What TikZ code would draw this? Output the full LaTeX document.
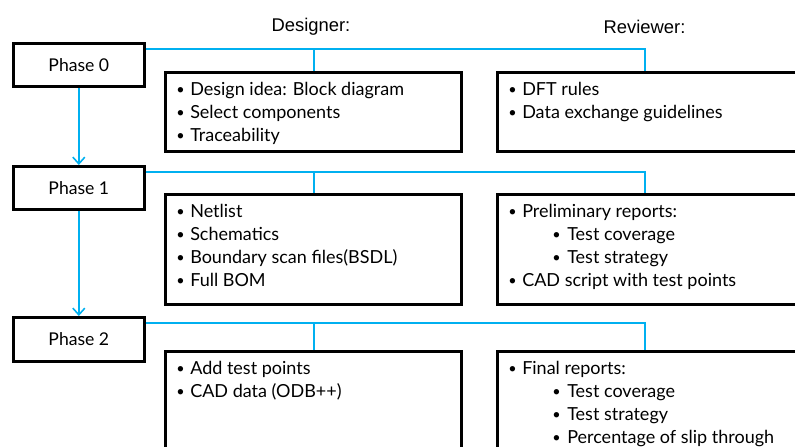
\documentclass[tikz,border=0pt]{standalone}
\usepackage{fontspec}
\setmainfont{Lato}
\newfontfamily\hdrfont{Liberation Sans}
\usetikzlibrary{arrows.meta}
\definecolor{linkblue}{RGB}{0,176,240}
\newcommand{\itm}[1]{\makebox[10.5pt][l]{\raisebox{0.5pt}{\scalebox{0.8}{\textbullet}}}#1}
\newcommand{\subitm}[1]{\hspace*{33pt}\makebox[11.25pt][l]{\raisebox{0.5pt}{\scalebox{0.8}{\textbullet}}}#1}
\newcommand{\fl}{\rule{0pt}{10.5pt}}
\tikzset{
  phasebox/.style={draw=black, line width=2pt, anchor=north west, minimum width=98.25pt, minimum height=32.25pt, inner sep=0pt, font=\fontsize{13.2}{15}\selectfont},
  listbox/.style={draw=black, line width=2pt, anchor=north west, minimum width=#1, inner sep=0pt},
  listtext/.style={anchor=north west, inner sep=0pt, align=left, font=\fontsize{13.5}{17.25}\selectfont},
  hdr/.style={font=\hdrfont\fontsize{13.8}{16}\selectfont, inner sep=0pt},
  conn/.style={draw=linkblue, line width=1.2pt},
  arr/.style={draw=linkblue, line width=1.2pt, -{Straight Barb[length=5pt,width=9pt,line width=1.2pt]}}
}
\begin{document}
\begin{tikzpicture}[x=0.75pt,y=-0.75pt]
\useasboundingbox (0,0) rectangle (795,446);
\clip (0,0) rectangle (795,446);
% headers
\node[hdr] (hd) at (311,27) {Designer:};
\node[hdr] (hr) at (644.5,27) {Reviewer:};
% phase boxes
\node[phasebox] (p0) at (12,42) {Phase 0};
\node[phasebox] (p1) at (12,165) {Phase 1};
\node[phasebox, minimum height=33pt] (p2) at (12,316) {Phase 2};
% designer boxes
\node[listbox=222pt, minimum height=59.25pt] (d0) at (164,71) {};
\node[listbox=222pt, minimum height=82.5pt] (d1) at (164,193) {};
\node[listbox=222pt, minimum height=90pt] (d2) at (164,350) {};
% reviewer boxes
\node[listbox=235pt, minimum height=59.25pt] (r0) at (496,71) {};
\node[listbox=235pt, minimum height=82.5pt] (r1) at (496,193) {};
\node[listbox=235pt, minimum height=90pt] (r2) at (496,350) {};
% texts
\node[listtext] (d0t) at ([xshift=9pt,yshift=-7.5pt]d0.north west) {\fl\itm{Design idea: Block diagram}\\ \itm{Select components}\\ \itm{Traceability}};
\node[listtext] (r0t) at ([xshift=9pt,yshift=-7.5pt]r0.north west) {\fl\itm{DFT rules}\\ \itm{Data exchange guidelines}};
\node[listtext] (d1t) at ([xshift=9pt,yshift=-7.5pt]d1.north west) {\fl\itm{Netlist}\\ \itm{Schematics}\\ \itm{Boundary scan files(BSDL)}\\ \itm{Full BOM}};
\node[listtext] (r1t) at ([xshift=9pt,yshift=-7.5pt]r1.north west) {\fl\itm{Preliminary reports:}\\ \subitm{Test coverage}\\ \subitm{Test strategy}\\ \itm{CAD script with test points}};
\node[listtext] (d2t) at ([xshift=9pt,yshift=-7.5pt]d2.north west) {\fl\itm{Add test points}\\ \itm{CAD data (ODB++)}};
\node[listtext] (r2t) at ([xshift=9pt,yshift=-7.5pt]r2.north west) {\fl\itm{Final reports:}\\ \subitm{Test coverage}\\ \subitm{Test strategy}\\ \subitm{Percentage of slip through}};
% connector junctions
\coordinate (j0) at ([yshift=-5.25pt]p0.north east);
\coordinate (j1) at ([yshift=-5.25pt]p1.north east);
\coordinate (j2) at ([yshift=-5.25pt]p2.north east);
\coordinate (rt0) at ([xshift=111.75pt]r0.north west);
\coordinate (rt1) at ([xshift=111.75pt]r1.north west);
\coordinate (rt2) at ([xshift=111.75pt]r2.north west);
\coordinate (dt0) at ([xshift=0.375pt]d0.north);
\coordinate (dt1) at ([xshift=0.375pt]d1.north);
\coordinate (dt2) at ([xshift=0.375pt]d2.north);
\draw[conn] (j0) -| (rt0);
\draw[conn] (dt0) -- (dt0 |- j0);
\draw[conn] (j1) -| (rt1);
\draw[conn] (dt1) -- (dt1 |- j1);
\draw[conn] (j2) -| (rt2);
\draw[conn] (dt2) -- (dt2 |- j2);
% arrows
\draw[arr] (p0.south) -- (p1.north);
\draw[arr] (p1.south) -- (p2.north);
\end{tikzpicture}
\end{document}
